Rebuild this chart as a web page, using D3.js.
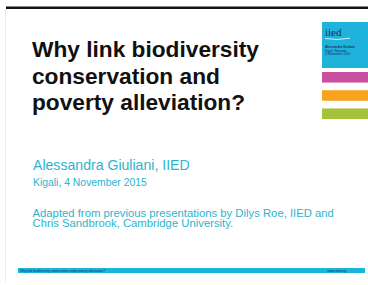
<!DOCTYPE html>
<html><head><meta charset="utf-8">
<script src="https://cdn.jsdelivr.net/npm/d3@7"></script>
<style>html,body{margin:0;padding:0;background:#fff;overflow:hidden}</style>
</head><body>
<script>
const titleLines = ["Why link biodiversity", "conservation and", "poverty alleviation?"];
const authorLine = "Alessandra Giuliani, IIED";
const placeDate = "Kigali, 4 November 2015";
const creditLines = ["Adapted from previous presentations by Dilys Roe, IIED and", "Chris Sandbrook, Cambridge University."];
const logoText = "iied";
const logoSmall = ["Alessandra Giuliani", "Kigali, Rwanda", "4 November 2015"];
const stripeNames = ["magenta", "orange", "green"];
const stripeColors = ["#c9509e", "#f8a51d", "#a6c23a"];
const footerLeft = "Why link biodiversity conservation and poverty alleviation?";
const footerRight = "www.iied.org";

const W = 368, H = 285;
const svg = d3.select("body").append("svg").attr("width", W).attr("height", H);
const sans = "'Liberation Sans', Arial, sans-serif";
const cyanText = "#2db4cc";

svg.append("rect").attr("width", W).attr("height", H).attr("fill", "#fff");
// left faint slide edge
svg.append("line").attr("x1", 5.5).attr("x2", 5.5).attr("y1", 9).attr("y2", 282)
  .attr("stroke", "#ececec").attr("stroke-width", 1);
// top black bar
svg.append("rect").attr("x", 6).attr("y", 6.5).attr("width", W - 6).attr("height", 2.5).attr("fill", "#111");

// logo box
svg.append("rect").attr("x", 322).attr("y", 22).attr("width", 46).attr("height", 46).attr("fill", "#1fb3dc");
svg.append("text").attr("x", 325).attr("y", 36).text(logoText)
  .attr("font-family", "'Liberation Serif', 'DejaVu Serif', serif").attr("font-size", 11).attr("fill", "#1d2f5a");
svg.append("path").attr("d", "M325,38.5 Q337,40.5 350,38.2").attr("stroke", "#e8f6fb").attr("stroke-width", 0.9).attr("fill", "none");
svg.selectAll("text.ls").data(logoSmall).join("text").attr("class", "ls")
  .attr("x", 325).attr("y", (d, i) => 48 + i * 3.6).text(d => d)
  .attr("font-family", sans).attr("font-size", 3.2).attr("fill", "#1d2f5a")
  .attr("font-weight", (d, i) => i === 0 ? "bold" : "normal");

// stripes via band scale
const ys = d3.scaleBand().domain(stripeNames).range([72, 119]).paddingInner(0.42).paddingOuter(0);
svg.selectAll("rect.stripe").data(stripeNames).join("rect").attr("class", "stripe")
  .attr("x", 322).attr("y", d => ys(d)).attr("width", 46).attr("height", ys.bandwidth())
  .attr("fill", (d, i) => stripeColors[i]);

// title
svg.selectAll("text.title").data(titleLines).join("text").attr("class", "title")
  .attr("x", 32).attr("y", (d, i) => 57 + i * 26.5).text(d => d)
  .attr("font-family", sans).attr("font-weight", "bold").attr("font-size", 22.7).attr("fill", "#111");

svg.append("text").attr("x", 33).attr("y", 170).text(authorLine)
  .attr("font-family", sans).attr("font-size", 14.1).attr("fill", cyanText);
svg.append("text").attr("x", 33).attr("y", 186).text(placeDate)
  .attr("font-family", sans).attr("font-size", 10.4).attr("fill", cyanText);
svg.selectAll("text.credit").data(creditLines).join("text").attr("class", "credit")
  .attr("x", 32.5).attr("y", (d, i) => 216.5 + i * 10.5).text(d => d)
  .attr("font-family", sans).attr("font-size", 11.3).attr("fill", cyanText);

// footer band
svg.append("rect").attr("x", 18).attr("y", 268).attr("width", 347).attr("height", 5).attr("fill", "#1ab4dc");
svg.append("text").attr("x", 20).attr("y", 271.8).text(footerLeft)
  .attr("font-family", sans).attr("font-size", 3.3).attr("fill", "#1d2f5a");
svg.append("text").attr("x", 346).attr("y", 271.8).attr("text-anchor", "end").text(footerRight)
  .attr("font-family", sans).attr("font-size", 3.3).attr("fill", "#1d2f5a");
</script>
</body></html>
